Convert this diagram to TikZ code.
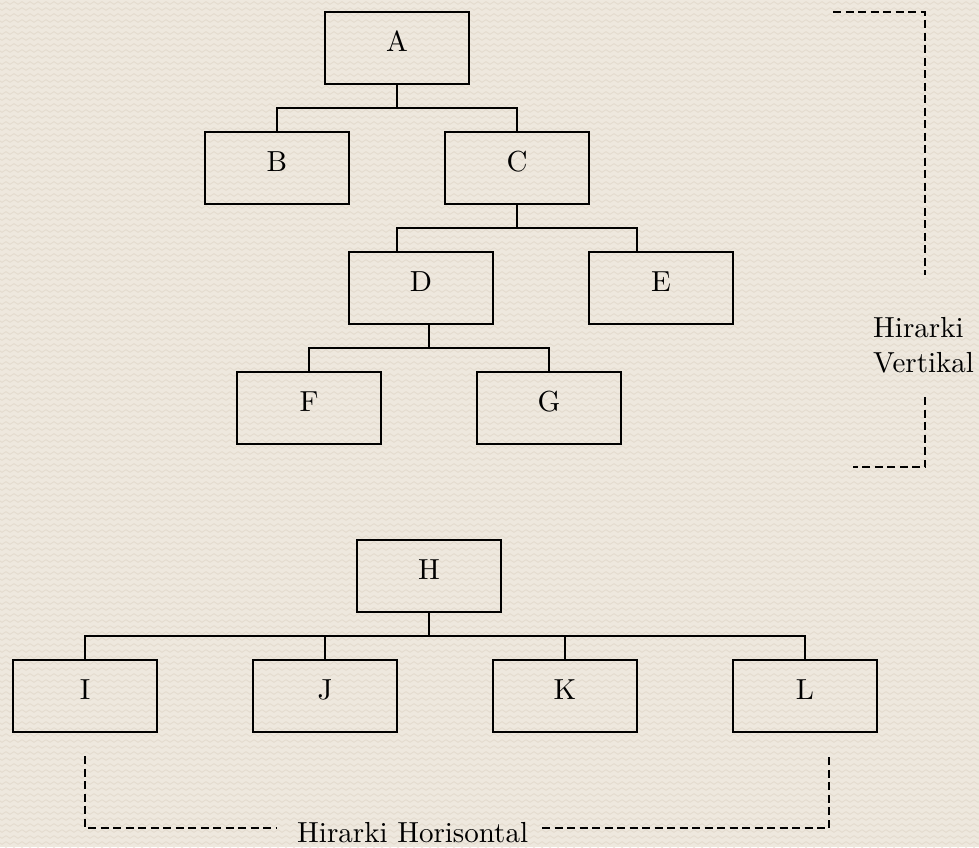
\documentclass[tikz,border=0pt]{standalone}
\usepackage{fontspec}
\setmainfont{lmroman10-regular.otf}
\usetikzlibrary{decorations.pathmorphing}
\definecolor{bgc}{HTML}{EEE8DE}
\definecolor{zzc}{HTML}{E4DBCE}
\tikzset{
  box/.style={draw=black, line width=2.5pt, outer sep=0pt, minimum width=144pt, minimum height=72pt,
    inner sep=0pt, text height=20pt, text depth=14pt, font=\fontsize{29}{35}\selectfont},
  conn/.style={draw=black, line width=2.5pt, line cap=rect},
  dline/.style={draw=black, line width=2pt, dash pattern=on 8pt off 4.5pt},
  lbl/.style={inner sep=0pt, font=\fontsize{29}{35}\selectfont},
  zz/.style={draw=zzc, line width=0.9pt, decorate, decoration={zigzag, segment length=8pt, amplitude=1.3pt}}
}
\begin{document}
\begin{tikzpicture}[x=1pt,y=-1pt]
\useasboundingbox (0,0) rectangle (979,847);
\fill[bgc] (0,0) rectangle (979,847);
\foreach \r in {0,...,141} {\draw[zz] (-4,{\r*6+3}) -- (984,{\r*6+3});}
% vertical hierarchy
\node[box] (A) at (397,48) {A};
\node[box] (B) at (277,168) {B};
\node[box] (C) at (517,168) {C};
\node[box] (D) at (421,288) {D};
\node[box] (E) at (661,288) {E};
\node[box] (F) at (309,408) {F};
\node[box] (G) at (549,408) {G};
\draw[conn] (A.south) -- ++(0,24);
\draw[conn] (B.north) -- ++(0,-24) -| (C.north);
\draw[conn] (C.south) -- ++(0,24);
\draw[conn] ([xshift=-24pt]D.north) -- ++(0,-24) -| ([xshift=-24pt]E.north);
\draw[conn] ([xshift=8pt]D.south) -- ++(0,24);
\draw[conn] (F.north) -- ++(0,-24) -| (G.north);
% horizontal hierarchy
\node[box] (H) at (429,576) {H};
\node[box] (I) at (85,696) {I};
\node[box] (J) at (325,696) {J};
\node[box] (K) at (565,696) {K};
\node[box] (L) at (805,696) {L};
\draw[conn] (H.south) -- ++(0,24);
\draw[conn] (I.north) -- ++(0,-24) -| (L.north);
\draw[conn] (J.north) -- ++(0,-24);
\draw[conn] (K.north) -- ++(0,-24);
% labels
\node[lbl, anchor=base west] (vt1) at (873,337) {Hirarki};
\node[lbl, anchor=base west] (vt2) at (873,372) {Vertikal};
\node[lbl, anchor=base west] (ht) at (297,842) {Hirarki Horisontal};
% vertical bracket
\coordinate (v1) at (833,12);
\coordinate (v2) at (925,275);
\coordinate (v3) at (925,397);
\coordinate (v4) at (853,467);
\draw[dline] (v1) -| (v2);
\draw[dline] (v3) |- (v4);
% horizontal bracket
\coordinate (h1) at (85,756);
\coordinate (h2) at (277,828);
\coordinate (h3) at (542,828);
\coordinate (h4) at (829,757);
\draw[dline] (h1) |- (h2);
\draw[dline] (h3) -| (h4);
\end{tikzpicture}
\end{document}
